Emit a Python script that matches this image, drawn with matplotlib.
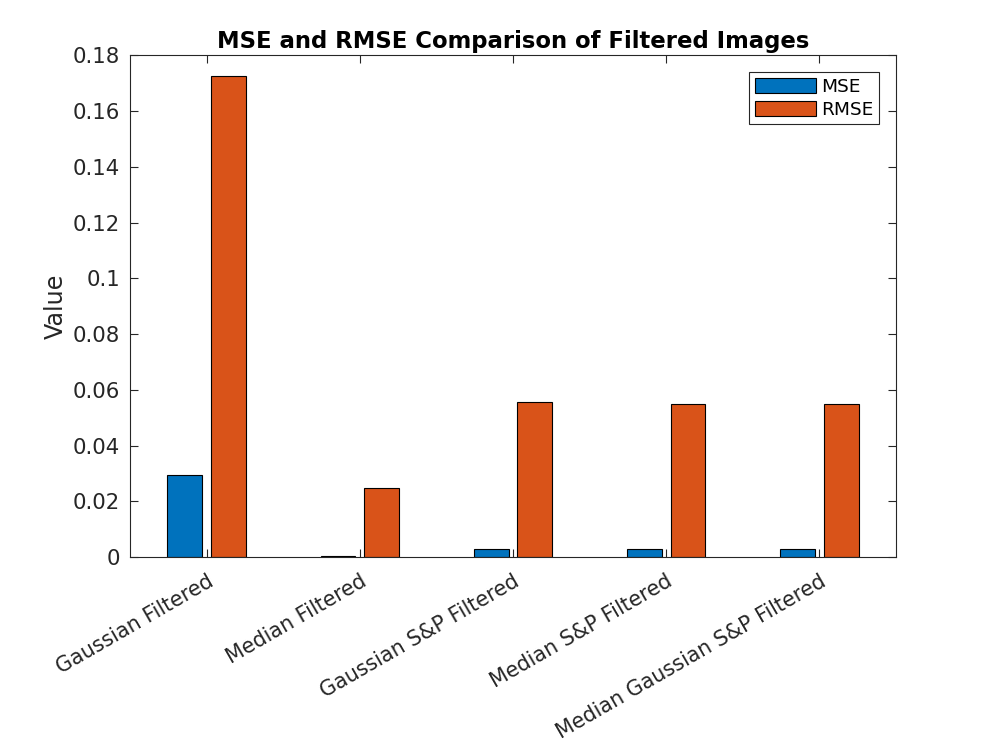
import matplotlib.pyplot as plt
import numpy as np

fontsize = 15.3

categories = ["Gaussian Filtered", "Median Filtered", "Gaussian S&P Filtered",
              "Median S&P Filtered", "Median Gaussian S&P Filtered"]
mse = [0.0294, 0.0004, 0.0030, 0.0030, 0.0030]
rmse = [0.1725, 0.0246, 0.0556, 0.0550, 0.0550]

fig = plt.figure(figsize=(9.91, 7.44), dpi=100)
ax = fig.add_axes([0.1312, 0.2513, 0.7729, 0.6744])

x = np.arange(1, len(categories) + 1)
bar_width = 0.227
ax.bar(x - 0.142, mse, bar_width, color="#0072BD", edgecolor="black", linewidth=0.8, label="MSE")
ax.bar(x + 0.142, rmse, bar_width, color="#D95319", edgecolor="black", linewidth=0.8, label="RMSE")

ax.set_xlim(0.5, 5.5)
ax.set_ylim(0, 0.18)
ax.set_yticks(np.arange(0, 0.181, 0.02))
ax.set_yticklabels(["0", "0.02", "0.04", "0.06", "0.08", "0.1", "0.12", "0.14", "0.16", "0.18"])
ax.set_xticks(x)
ax.set_xticklabels(categories, rotation=30, ha="right", rotation_mode="anchor")

ax.tick_params(direction="in", top=True, right=True, labelsize=fontsize,
               colors="#262626", length=6, width=0.8)
ax.tick_params(axis="x", pad=10, labelsize=14.9)
ax.tick_params(axis="y", pad=7)
for s in ax.spines.values():
    s.set_color("#262626")
    s.set_linewidth(0.8)

ax.set_ylabel("Value", fontsize=17.2, color="#262626", labelpad=4)
ax.set_title("MSE and RMSE Comparison of Filtered Images", fontsize=16.4, fontweight="bold", pad=5)

leg = ax.legend(loc="upper right", bbox_to_anchor=(0.978, 0.966), fontsize=13.3,
                fancybox=False, edgecolor="#262626", framealpha=1,
                handlelength=3.3, handleheight=0.9, borderpad=0.3, labelspacing=0.25,
                handletextpad=0.3, borderaxespad=0)
leg.get_frame().set_linewidth(0.8)

plt.savefig("out.png")
